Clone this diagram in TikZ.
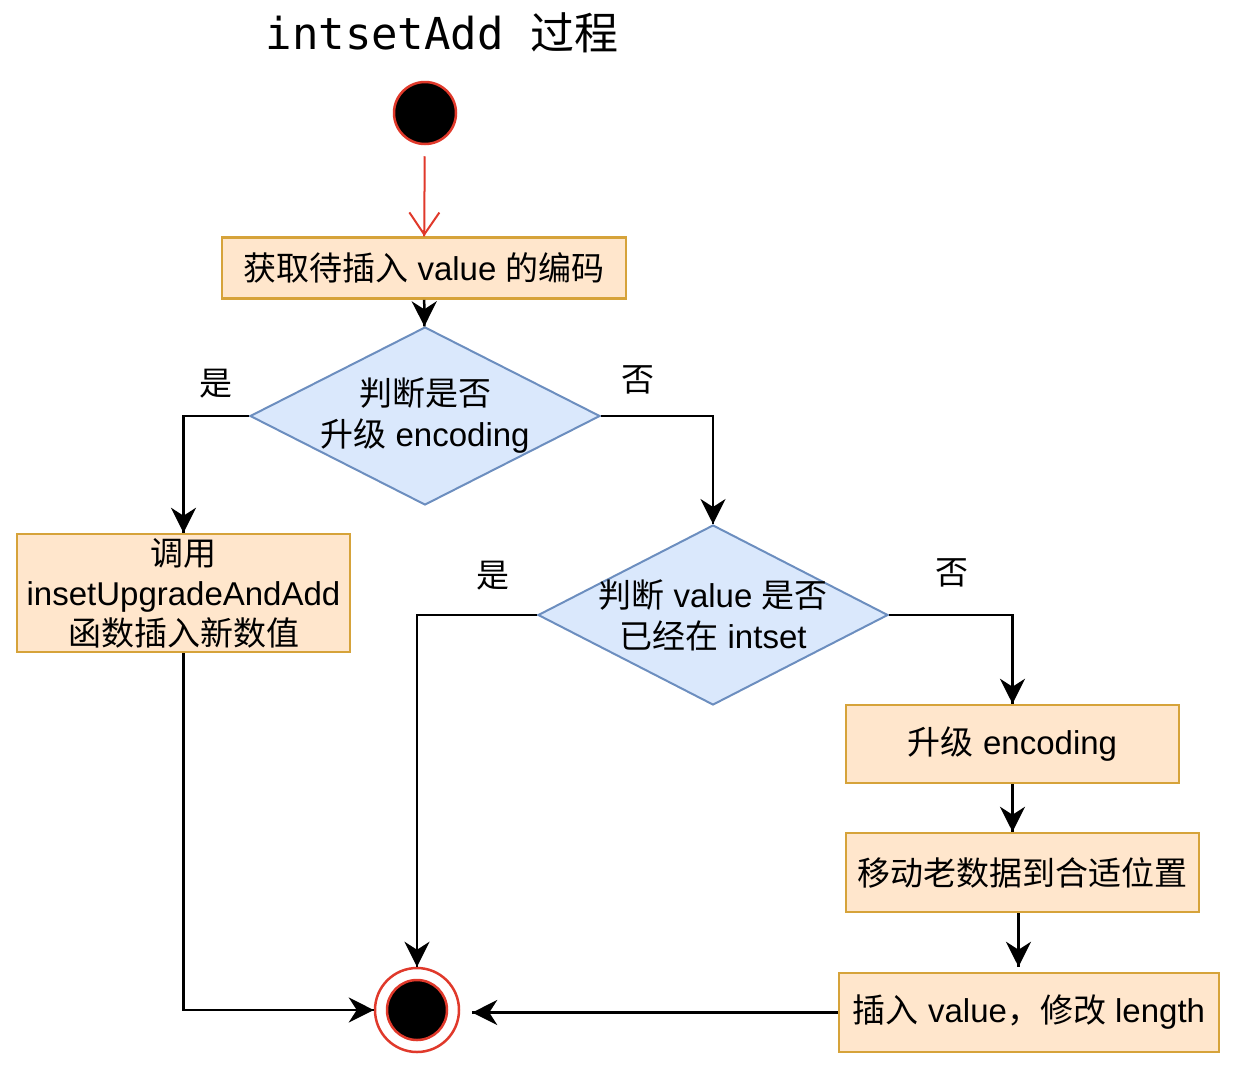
\documentclass[tikz,border=0pt]{standalone}
\usepackage{fontspec}
\setmainfont{Liberation Sans}
\newfontfamily\cjk{Noto Sans CJK SC}
\newfontfamily\mono{DejaVu Sans Mono}
\usetikzlibrary{arrows.meta}
\usetikzlibrary{decorations.markings}
\usetikzlibrary{shapes.geometric}
\tikzset{flow/.style = {decoration={markings,
                                    mark=at position 1 with {\arrow{Stealth[length=25pt, width=25pt, inset=8pt]}}},
                        postaction={decorate}}}
\tikzset{proc/.style = {rectangle, draw=morange, fill=mpeach, line width=2.5pt,
                        inner sep=0, align=center, font=\fontsize{33}{40}\selectfont}}
\tikzset{choice/.style = {diamond, draw=mblue, fill=mlight, line width=2pt, inner sep=0}}
\tikzset{tag/.style = {font=\fontsize{33}{40}\selectfont\cjk}}
\definecolor{mred}{HTML}{E0392B}
\definecolor{morange}{HTML}{D6A33A}
\definecolor{mpeach}{HTML}{FFE6CC}
\definecolor{mblue}{HTML}{6C8EBF}
\definecolor{mlight}{HTML}{DAE8FC}
\newcommand\zhtxt[1]{{\cjk #1}}

\begin{document}
\begin{tikzpicture}[x=1pt, y=-1pt, line width=2.5pt]
    \useasboundingbox (0, 0) rectangle (1236, 1066);
    \node[font=\fontsize{44}{50}\selectfont] (title) at (442, 33) {{\mono intsetAdd }\zhtxt{过程}};

    % start and end
    \node[circle, fill=black, draw=mred, minimum size=62pt, inner sep=0] (start) at (425, 113) {};
    \node[circle, fill=white, draw=mred, minimum size=84pt, inner sep=0] (end) at (417, 1010) {};
    \node[circle, fill=black, draw=mred, minimum size=60pt, inner sep=0] (endDot) at (end) {};
    \coordinate (endR) at ([xshift=12pt]end.east);

    % steps
    \node[proc, minimum width=404pt, minimum height=61pt] (b1) at (424, 268)
      {\zhtxt{获取待插入} value \zhtxt{的编码}};
    \node[choice, minimum width=350pt, minimum height=178pt,
          label={[align=center, font=\fontsize{33}{41}\selectfont]center:\zhtxt{判断是否}\\\zhtxt{升级} encoding}] (d1) at (425, 416) {};
    \node[proc, minimum width=333pt, minimum height=118pt] (b2) at (183.5, 593)
      {\zhtxt{调用}\\insetUpgradeAndAdd\\\zhtxt{函数插入新数值}};
    \node[choice, minimum width=350pt, minimum height=180pt,
          label={[align=center, font=\fontsize{33}{41}\selectfont]center:\zhtxt{判断} value \zhtxt{是否}\\\zhtxt{已经在} intset}] (d2) at (713, 615) {};
    \node[proc, minimum width=333pt, minimum height=78pt] (b3) at (1012.5, 744) {\zhtxt{升级} encoding};
    \node[proc, minimum width=353pt, minimum height=79pt] (b4) at (1022.5, 872.5) {\zhtxt{移动老数据到合适位置}};
    \node[proc, minimum width=380pt, minimum height=79pt] (b5) at (1029, 1012.5) {\zhtxt{插入} value\zhtxt{，修改} length};

    % yes / no
    \node[tag] (yes1) at (216, 384) {是};
    \node[tag] (no1) at (638, 380) {否};
    \node[tag] (yes2) at (493, 576) {是};
    \node[tag] (no2) at (952, 573) {否};

    % connectors
    \draw [mred, line width=2pt, shorten <=11pt,
           decoration={markings, mark=at position 1 with {\arrow{Straight Barb[length=22pt, width=30pt]}}},
           postaction={decorate}] (start) -- (b1);
    \draw [flow] (b1) -- (d1);
    \draw [flow] (d1.west) -| (b2.north);
    \draw [flow] (d1.east) -| (d2.north);
    \draw [flow] (d2.west) -| (end.north);
    \draw [flow] (d2.east) -| (b3.north);
    \draw [flow] (b3.south) -- (b3.south |- b4.north);
    \draw [flow] ([xshift=-4pt]b4.south) -- ([xshift=-4pt, yshift=5pt]b4.south |- b5.north);
    \draw [flow] (b5.west) -- (endR |- b5.west);
    \draw [flow] (b2.south) |- (end.west);
  \end{tikzpicture}
\end{document}
